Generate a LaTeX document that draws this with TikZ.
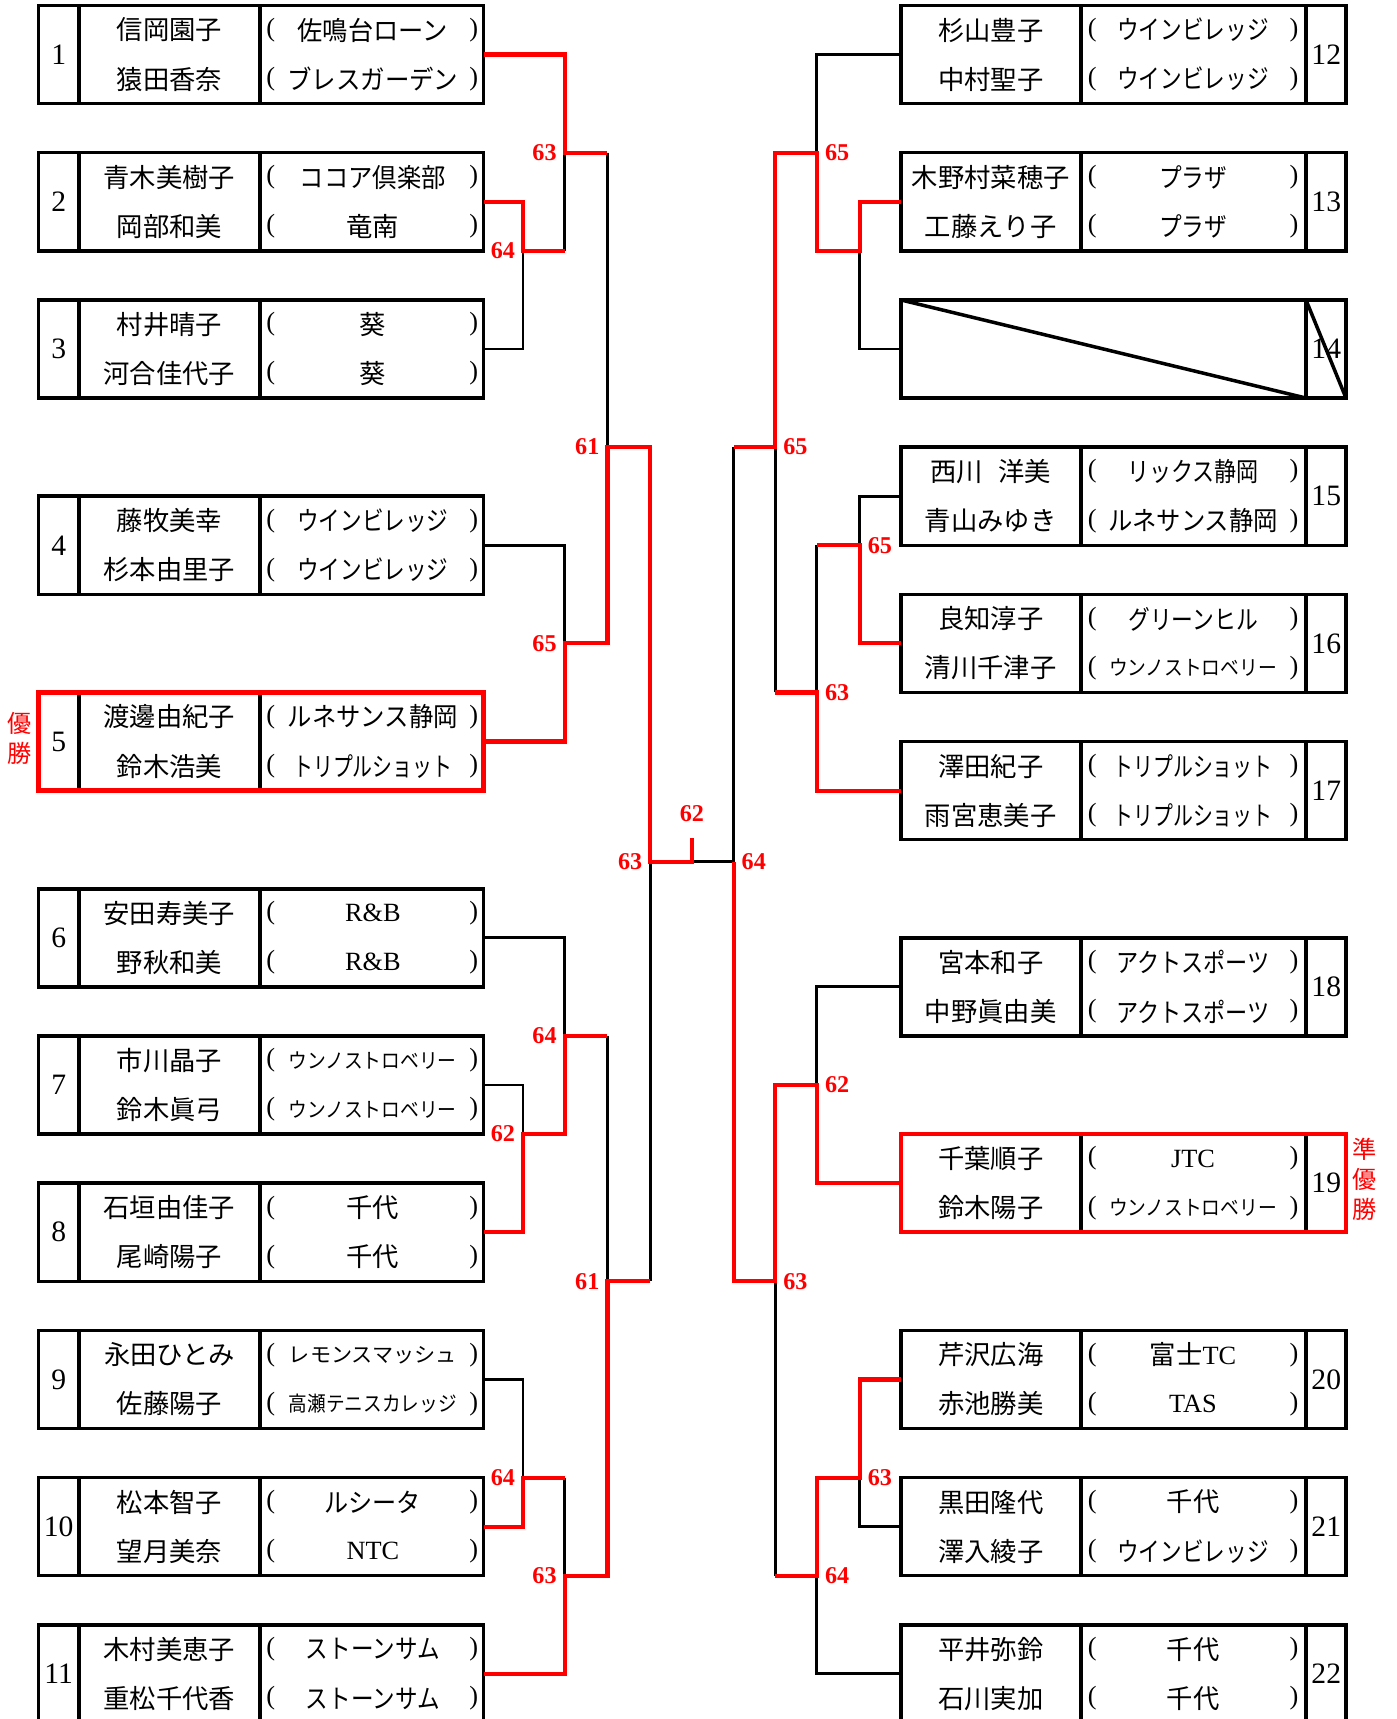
\documentclass[tikz,border=0pt]{standalone}
\usepackage{fontspec}
\usepackage{graphicx}
\usetikzlibrary{positioning}
\setmainfont{Liberation Serif}
\newfontfamily\jp{Noto Sans CJK JP}
\newcommand{\fitc}[2]{\resizebox{#1pt}{\height}{#2}}
\newcommand{\sm}{\fontsize{9.5}{9.5}\selectfont}

\newcommand{\leftentry}[8][]{%
  \draw[divider] (72,#3) -- ++(0,2) (237,#3) -- ++(0,2);
  \node[entry,#1] (#2) at (238,#3+1) {};
  \node[numtext] (#2-no) at (53.5,#3+1) {#4};
  \node[player] (#2-p1) at (154.5,#3+0.5) {#5};
  \node[player] (#2-p2) at (154.5,#3+1.5) {#6};
  \node[paren] (#2-a1) at (247,#3+0.5) {(};
  \node[paren] (#2-b1) at (432,#3+0.5) {)};
  \node[paren] (#2-a2) at (247,#3+1.5) {(};
  \node[paren] (#2-b2) at (432,#3+1.5) {)};
  \node[club] (#2-c1) at (340,#3+0.5) {#7};
  \node[club] (#2-c2) at (340,#3+1.5) {#8};
}
\newcommand{\rightentry}[8][]{%
  \draw[divider] (986,#3) -- ++(0,2) (1191,#3) -- ++(0,2);
  \node[entry,#1] (#2) at (1024.5,#3+1) {};
  \node[numtext] (#2-no) at (1209.5,#3+1) {#4};
  \node[player] (#2-p1) at (903.5,#3+0.5) {#5};
  \node[player] (#2-p2) at (903.5,#3+1.5) {#6};
  \node[paren] (#2-a1) at (996,#3+0.5) {(};
  \node[paren] (#2-b1) at (1180,#3+0.5) {)};
  \node[paren] (#2-a2) at (996,#3+1.5) {(};
  \node[paren] (#2-b2) at (1180,#3+1.5) {)};
  \node[club] (#2-c1) at (1088,#3+0.5) {#7};
  \node[club] (#2-c2) at (1088,#3+1.5) {#8};
}

\begin{document}
\begin{tikzpicture}[x=0.5pt, y=-22.375pt,
    entry/.style={draw, line width=1.6pt, minimum width=203pt, minimum height=44.75pt, inner sep=0pt, outer sep=0pt},
    champ/.style={draw=red, line width=2pt},
    divider/.style={line width=1.6pt},
    lose/.style={line width=1.3pt},
    win/.style={red, line width=1.9pt},
    player/.style={font=\jp\fontsize{12}{12}\selectfont, inner sep=0pt},
    club/.style={font=\jp\fontsize{12}{12}\selectfont, inner sep=0pt},
    paren/.style={font=\fontsize{12}{12}\selectfont, inner sep=0pt},
    numtext/.style={font=\fontsize{13.5}{13.5}\selectfont, inner sep=0pt},
    score/.style={red, font=\bfseries\fontsize{11}{11}\selectfont, inner sep=2pt},
    winlabel/.style={red, font=\jp\fontsize{11}{13.6}\selectfont, align=center, inner sep=0pt}]
  \useasboundingbox (0,-0.1117) rectangle (1274,34.92);

  \leftentry{e1}{0}{1}{信岡園子}{猿田香奈}{\fitc{68.5}{佐鳴台ローン}}{\fitc{78}{ブレスガーデン}}
  \leftentry{e2}{3}{2}{青木美樹子}{岡部和美}{\fitc{66.5}{ココア倶楽部}}{竜南}
  \leftentry{e3}{6}{3}{村井晴子}{河合佳代子}{葵}{葵}
  \leftentry{e4}{10}{4}{藤牧美幸}{杉本由里子}{\fitc{69}{ウインビレッジ}}{\fitc{69}{ウインビレッジ}}
  \leftentry[champ]{e5}{14}{5}{渡邊由紀子}{鈴木浩美}{\fitc{77.5}{ルネサンス静岡}}{\fitc{72.5}{トリプルショット}}
  \leftentry{e6}{18}{6}{安田寿美子}{野秋和美}{\rmfamily R\&B}{\rmfamily R\&B}
  \leftentry{e7}{21}{7}{市川晶子}{鈴木眞弓}{\fitc{76.5}{\sm ウンノストロベリー}}{\fitc{76.5}{\sm ウンノストロベリー}}
  \leftentry{e8}{24}{8}{石垣由佳子}{尾崎陽子}{千代}{千代}
  \leftentry{e9}{27}{9}{永田ひとみ}{佐藤陽子}{\fitc{76.5}{\sm レモンスマッシュ}}{\fitc{76.5}{\sm 高瀬テニスカレッジ}}
  \leftentry{e10}{30}{10}{松本智子}{望月美奈}{\fitc{44}{ルシータ}}{\rmfamily NTC}
  \leftentry{e11}{33}{11}{木村美恵子}{重松千代香}{\fitc{61}{ストーンサム}}{\fitc{61}{ストーンサム}}

  \rightentry{e12}{0}{12}{杉山豊子}{中村聖子}{\fitc{69}{ウインビレッジ}}{\fitc{69}{ウインビレッジ}}
  \rightentry{e13}{3}{13}{木野村菜穂子}{工藤えり子}{\fitc{31}{プラザ}}{\fitc{31}{プラザ}}
  \draw[divider] (1191,6) -- ++(0,2);
  \node[entry] (e14) at (1024.5,7) {};
  \node[numtext] (e14-no) at (1209.5,7) {14};
  \draw[divider] (e14.north west) -- (1191,8) (1191,6) -- (e14.south east);
  \rightentry{e15}{9}{15}{西川\hspace{7pt}洋美}{青山みゆき}{\fitc{60}{リックス静岡}}{\fitc{77.5}{ルネサンス静岡}}
  \rightentry{e16}{12}{16}{良知淳子}{清川千津子}{\fitc{59}{グリーンヒル}}{\fitc{76.5}{\sm ウンノストロベリー}}
  \rightentry{e17}{15}{17}{澤田紀子}{雨宮恵美子}{\fitc{72.5}{トリプルショット}}{\fitc{72.5}{トリプルショット}}
  \rightentry{e18}{19}{18}{宮本和子}{中野眞由美}{\fitc{70}{アクトスポーツ}}{\fitc{70}{アクトスポーツ}}
  \rightentry[champ]{e19}{23}{19}{千葉順子}{鈴木陽子}{\rmfamily JTC}{\fitc{76.5}{\sm ウンノストロベリー}}
  \rightentry{e20}{27}{20}{芹沢広海}{赤池勝美}{富士{\rmfamily TC}}{\rmfamily TAS}
  \rightentry{e21}{30}{21}{黒田隆代}{澤入綾子}{千代}{\fitc{69}{ウインビレッジ}}
  \rightentry{e22}{33}{22}{平井弥鈴}{石川実加}{千代}{千代}

  \node[winlabel] (lbl5) at (18,14.94) {優\\勝};
  \node[winlabel] (lbl19) at (1244,23.92) {準\\優\\勝};

  % junctions
  \coordinate (L1) at (477,5);
  \coordinate (L2) at (515,3);
  \coordinate (L3) at (515,13);
  \coordinate (L4) at (554,9);
  \coordinate (L5) at (477,23);
  \coordinate (L6) at (515,21);
  \coordinate (L7) at (477,30);
  \coordinate (L8) at (515,32);
  \coordinate (L9) at (554,26);
  \coordinate (L10) at (593,17.45);
  \coordinate (F) at (631,17.45);
  \coordinate (Ftop) at (631,16.97);
  \coordinate (R1) at (784,5);
  \coordinate (R2) at (745,3);
  \coordinate (R3) at (784,11);
  \coordinate (R4) at (745,14);
  \coordinate (R5) at (707,9);
  \coordinate (R6) at (745,22);
  \coordinate (R7) at (784,30);
  \coordinate (R8) at (745,32);
  \coordinate (R9) at (707,26);
  \coordinate (R10) at (669,17.45);

  \draw[lose] (e3.east) -| (L1);
  \draw[lose] (L1 -| L2) -- (L2);
  \draw[lose] (L2 -| L4) -- (L4);
  \draw[lose] (e4.east) -| (L3);
  \draw[lose] (e6.east) -| (L6);
  \draw[lose] (e7.east) -| (L5);
  \draw[lose] (L6 -| L9) -- (L9);
  \draw[lose] (e9.east) -| (L7);
  \draw[lose] (L7 -| L8) -- (L8);
  \draw[lose] (L9 -| L10) -- (L10);
  \draw[lose] (F) -- (R10);
  \draw[lose] (e12.west) -| (R2);
  \draw[lose] (e14.west) -| (R1);
  \draw[lose] (R5 -| R10) -- (R10);
  \draw[lose] (e15.west) -| (R3);
  \draw[lose] (R3 -| R4) -- (R4);
  \draw[lose] (R4 -| R5) -- (R5);
  \draw[lose] (e18.west) -| (R6);
  \draw[lose] (e21.west) -| (R7);
  \draw[lose] (e22.west) -| (R8);
  \draw[lose] (R8 -| R9) -- (R9);

  \draw[win] (e1.east) -| (L2) -- (L2 -| L4);
  \draw[win] (e2.east) -| (L1) -- (L1 -| L2);
  \draw[win] (e5.east) -| (L3) -- (L3 -| L4) -- (L4) -- (L4 -| L10) -- (L10) -- (F) -- (Ftop);
  \draw[win] (e8.east) -| (L5) -- (L5 -| L6) -- (L6) -- (L6 -| L9);
  \draw[win] (e10.east) -| (L7) -- (L7 -| L8);
  \draw[win] (e11.east) -| (L8) -- (L8 -| L9) -- (L9) -- (L9 -| L10);
  \draw[win] (e13.west) -| (R1) -- (R1 -| R2) -- (R2) -- (R2 -| R5) -- (R5) -- (R5 -| R10);
  \draw[win] (e16.west) -| (R3) -- (R3 -| R4);
  \draw[win] (e17.west) -| (R4) -- (R4 -| R5);
  \draw[win] (e19.west) -| (R6) -- (R6 -| R9) -- (R9) -- (R9 -| R10) -- (R10);
  \draw[win] (e20.west) -| (R7) -- (R7 -| R8) -- (R8) -- (R8 -| R9);

  % scores
  \node[score, left=1.5pt of L1] (sL1) {64};
  \node[score, left=1.5pt of L2] (sL2) {63};
  \node[score, left=1.5pt of L3] (sL3) {65};
  \node[score, left=1.5pt of L4] (sL4) {61};
  \node[score, left=1.5pt of L5] (sL5) {62};
  \node[score, left=1.5pt of L6] (sL6) {64};
  \node[score, left=1.5pt of L7] (sL7) {64};
  \node[score, left=1.5pt of L8] (sL8) {63};
  \node[score, left=1.5pt of L9] (sL9) {61};
  \node[score, left=1.5pt of L10] (sL10) {63};
  \node[score, above=5.5pt of Ftop] (sF) {62};
  \node[score, right=1.5pt of R10] (sR10) {64};
  \node[score, right=1.5pt of R2] (sR2) {65};
  \node[score, right=1.5pt of R3] (sR3) {65};
  \node[score, right=1.5pt of R4] (sR4) {63};
  \node[score, right=1.5pt of R5] (sR5) {65};
  \node[score, right=1.5pt of R6] (sR6) {62};
  \node[score, right=1.5pt of R7] (sR7) {63};
  \node[score, right=1.5pt of R8] (sR8) {64};
  \node[score, right=1.5pt of R9] (sR9) {63};
\end{tikzpicture}
\end{document}
